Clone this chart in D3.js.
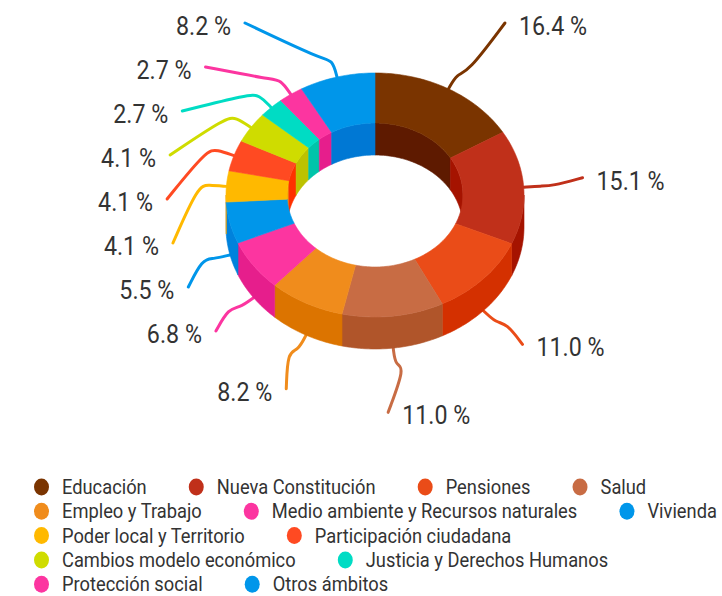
<!DOCTYPE html>
<html>
<head>
<meta charset="utf-8">
<script src="https://cdn.jsdelivr.net/npm/d3@7"></script>
<style>
  html, body { margin: 0; padding: 0; background: #fff; }
  svg { display: block; font-family: Roboto, "Noto Sans", sans-serif; }
</style>
</head>
<body>
<svg id="chart" width="722" height="596"></svg>
<script>
// ---- data ----
const categories = [
  "Educación", "Nueva Constitución", "Pensiones", "Salud", "Empleo y Trabajo",
  "Medio ambiente y Recursos naturales", "Vivienda", "Poder local y Territorio",
  "Participación ciudadana", "Cambios modelo económico", "Justicia y Derechos Humanos",
  "Protección social", "Otros ámbitos"
];
const percents = [16.4, 15.1, 11.0, 11.0, 8.2, 6.8, 5.5, 4.1, 4.1, 4.1, 2.7, 2.7, 8.2];
const colors = [
  "#7a3400", "#c0301a", "#ea4c18", "#c86c44", "#f08c1c", "#fc35a0", "#0096ea",
  "#ffb900", "#ff4a22", "#cfdc00", "#00dcc4", "#fc35a0", "#0096ea"
];
const sideColors = [
  "#5e1a00", "#a51300", "#d43000", "#b0552a", "#dc7400", "#e61e8c", "#0082dc",
  "#f0a000", "#ff3000", "#bcc200", "#00c4aa", "#e61e8c", "#0078d4"
];

// ---- layout ----
const cx = 375, cy = 195, rx = 149, ry = 122, innerR = 0.59, depth = 32;
const labelR = 222, labelTop = 26, labelGap = 44;
const svg = d3.select("#chart");

const data = categories.map((c, i) => ({ name: c, v: percents[i], color: colors[i], side: sideColors[i] }));
const pie = d3.pie().sort(null).value(d => d.v).startAngle(0).endAngle(2 * Math.PI);
const arcs = pie(data);

function pt(a, r, dz) {
  return [cx + rx * r * Math.sin(a), cy - ry * r * Math.cos(a) + dz];
}
function arcPts(a0, a1, r, dz) {
  const n = Math.max(2, Math.ceil(Math.abs(a1 - a0) / 0.02));
  const out = [];
  for (let k = 0; k <= n; k++) out.push(pt(a0 + (a1 - a0) * k / n, r, dz));
  return out;
}
const line = d3.line();
function poly(pts) { return line(pts) + "Z"; }

const gLines = svg.append("g");
const gInner = svg.append("g"), gOuter = svg.append("g"), gTop = svg.append("g");
const backRanges = [[0, Math.PI / 2], [3 * Math.PI / 2, 2 * Math.PI]];
arcs.forEach(a => {
  const a0 = a.startAngle, a1 = a.endAngle;
  // inner wall (back half visible through the hole)
  backRanges.forEach(([s0, e0]) => {
    const s = Math.max(a0, s0), e = Math.min(a1, e0);
    if (e > s) {
      gInner.append("path")
        .attr("d", poly(arcPts(s, e, innerR, 0).concat(arcPts(e, s, innerR, depth))))
        .attr("fill", a.data.side).attr("stroke", a.data.side).attr("stroke-width", 0.6);
    }
  });
  // outer wall (front half)
  const s = Math.max(a0, Math.PI / 2), e = Math.min(a1, 3 * Math.PI / 2);
  if (e > s) {
    gOuter.append("path")
      .attr("d", poly(arcPts(s, e, 1, 0).concat(arcPts(e, s, 1, depth))))
      .attr("fill", a.data.side).attr("stroke", a.data.side).attr("stroke-width", 0.6);
  }
  // top face
  gTop.append("path")
    .attr("d", poly(arcPts(a0, a1, 1, 0).concat(arcPts(a1, a0, innerR, 0))))
    .attr("fill", a.data.color).attr("stroke", a.data.color).attr("stroke-width", 0.6);
});

// ---- labels ----
const labels = arcs.map(a => {
  const mid = (a.startAngle + a.endAngle) / 2;
  const front = Math.cos(mid) < 0;
  const anchor = pt(mid, 1, front ? depth : 0);
  return {
    arc: a, mid, anchor,
    right: Math.sin(mid) > 0,
    y: Math.max(labelTop, cy - labelR * Math.cos(mid))
  };
});
[true, false].forEach(side => {
  // order labels from the top of the chart downwards along the ring
  const ls = labels.filter(l => l.right === side)
    .sort((p, q) => side ? p.mid - q.mid : q.mid - p.mid);
  for (let i = 1; i < ls.length; i++) {
    if (ls[i].y < ls[i - 1].y + labelGap) ls[i].y = ls[i - 1].y + labelGap;
  }
});
labels.forEach(l => {
  const dy = l.y - cy;
  const dx = Math.sqrt(Math.max(0, labelR * labelR - dy * dy));
  l.x = l.right ? cx + dx : cx - dx;
});

const curve = d3.line().curve(d3.curveBasis);
labels.forEach(l => {
  const dir = [Math.sin(l.mid), -Math.cos(l.mid)];
  const knee = [l.anchor[0] + 18 * dir[0], l.anchor[1] + 18 * dir[1]];
  const sgn = l.right ? 1 : -1;
  const knee2 = [knee[0] + sgn * 10, knee[1]];
  const end = [l.x - sgn * 14, l.y - 3];
  gLines.append("path")
    .attr("d", curve([l.anchor, knee, knee2, end]))
    .attr("fill", "none").attr("stroke", l.arc.data.color)
    .attr("stroke-width", 3).attr("stroke-linecap", "round");
  svg.append("text")
    .attr("transform", `translate(${l.x},${l.y}) scale(0.93,1)`)
    .attr("text-anchor", l.right ? "start" : "end")
    .attr("dy", "0.36em")
    .attr("font-size", 25)
    .attr("fill", "#333")
    .text(l.arc.data.v.toFixed(1) + " %");
});

// ---- legend ----
const legend = svg.append("g");
const legX0 = 34, legY0 = 487, rowH = 24.3, itemGap = 42, legMaxX = 724, textScale = 0.915;
let lx = legX0, ly = legY0;
data.forEach((d, i) => {
  const g = legend.append("g");
  const t = g.append("text")
    .attr("font-size", 20).attr("fill", "#333")
    .attr("dy", "0.35em")
    .text(d.name);
  const w = t.node().getComputedTextLength() * textScale;
  const itemW = 28 + w;
  if (i > 0 && lx + itemW > legMaxX) { lx = legX0; ly += rowH; }
  g.attr("transform", `translate(${lx},${ly})`);
  g.insert("ellipse", "text").attr("cx", 7.5).attr("cy", 0).attr("rx", 7.5).attr("ry", 8.5).attr("fill", d.color);
  t.attr("transform", `translate(28,0) scale(${textScale},1)`);
  lx += itemW + itemGap;
});
</script>
</body>
</html>
